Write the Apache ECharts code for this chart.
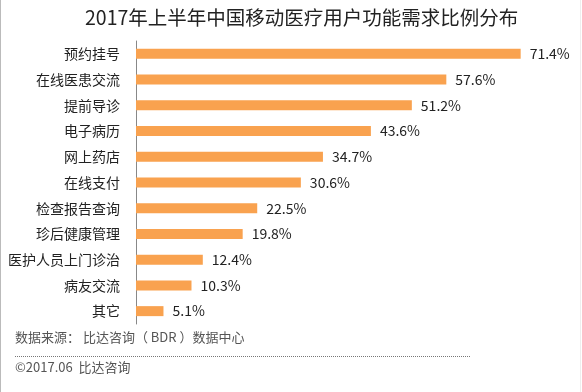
<!DOCTYPE html>
<html><head><meta charset="utf-8">
<script src="https://cdn.jsdelivr.net/npm/echarts@6/dist/echarts.min.js"></script>
<style>html,body{margin:0;padding:0;background:#fff}#c{width:582px;height:392px}</style>
</head><body><div id="c"></div>
<script>
const categories = ['预约挂号','在线医患交流','提前导诊','电子病历','网上药店','在线支付','检查报告查询','珍后健康管理','医护人员上门诊治','病友交流','其它'];
const values = [71.4, 57.6, 51.2, 43.6, 34.7, 30.6, 22.5, 19.8, 12.4, 10.3, 5.1];
const titleText = '2017年上半年中国移动医疗用户功能需求比例分布';
const sourceText = '数据来源： 比达咨询（ BDR ）数据中心';
const copyText = '©2017.06  比达咨询';
const FONT = '"Noto Sans CJK SC", "Noto Sans", sans-serif';
const chart = echarts.init(document.getElementById('c'));
chart.setOption({
  backgroundColor: '#fff',
  animation: false,
  title: { text: titleText, left: 80, top: 3, textStyle: { fontFamily: FONT, fontSize: 19.5, fontWeight: 'normal', color: '#222' } },
  grid: { left: 136, top: 41, height: 283, right: 15 },
  xAxis: { type: 'value', min: 0, max: 80, show: false },
  yAxis: {
    type: 'category', data: categories, inverse: true,
    axisLine: { show: true, lineStyle: { color: '#888', width: 1 } },
    axisTick: { show: false },
    axisLabel: { fontFamily: FONT, fontSize: 14, color: '#222', margin: 16 }
  },
  series: [{
    type: 'bar', data: values, barWidth: 10,
    itemStyle: { color: '#F9A24F' },
    label: { show: true, position: 'right', distance: 9, formatter: p => p.value.toFixed(1) + '%', fontFamily: FONT, fontSize: 14, color: '#222' }
  }],
  graphic: [
    { type: 'line', shape: { x1: 0.5, y1: 0, x2: 0.5, y2: 392 }, style: { stroke: '#bbb', lineWidth: 1 } },
    { type: 'line', shape: { x1: 580.5, y1: 0, x2: 580.5, y2: 392 }, style: { stroke: '#eee', lineWidth: 1 } },
    { type: 'text', left: 15, top: 331, style: { text: sourceText, font: '13px ' + FONT, fill: '#555' } },
    { type: 'line', shape: { x1: 15, y1: 356.5, x2: 470, y2: 356.5 }, style: { stroke: '#777', lineWidth: 1, lineDash: [1, 1] } },
    { type: 'text', left: 15, top: 361, style: { text: copyText, font: '13px ' + FONT, fill: '#555' } }
  ]
});
</script></body></html>
